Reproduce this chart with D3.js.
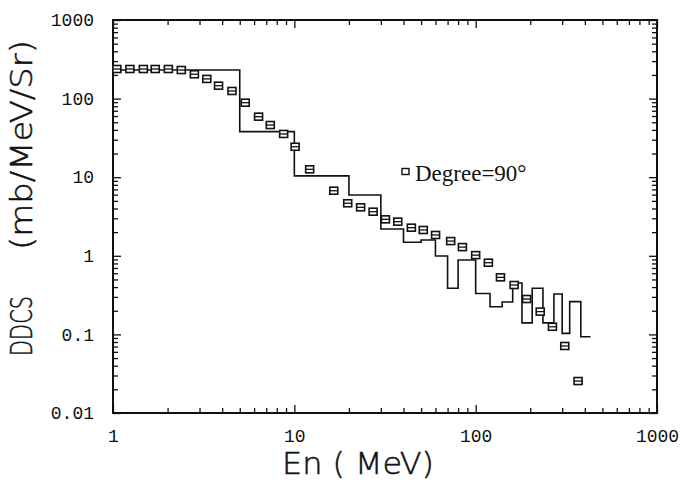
<!DOCTYPE html>
<html>
<head>
<meta charset="utf-8">
<script src="https://cdn.jsdelivr.net/npm/d3@7"></script>
<style>
  html, body { margin: 0; padding: 0; background: #fff; }
  svg { display: block; }
</style>
</head>
<body>
<svg id="chart" width="694" height="486"></svg>
<script>
// Measured double-differential cross section at 90 degrees (points)
const pointEnergy = [1.05, 1.24, 1.47, 1.71, 2.02, 2.38, 2.81, 3.29, 3.82, 4.53,
  5.36, 6.35, 7.37, 8.73, 10.1, 12.15, 16.5, 19.7, 23.2, 27.2,
  31.8, 37.2, 44.2, 51.4, 60.1, 72.8, 84.5, 100, 117.5, 137,
  163, 191, 227, 265, 310, 367];
const pointDDCS = [238, 238, 238, 238, 238, 231, 204, 178, 146, 125,
  88.7, 58.9, 46.1, 35.5, 24.4, 12.6, 6.73, 4.66, 4.14, 3.64,
  2.91, 2.72, 2.28, 2.13, 1.84, 1.54, 1.29, 1.02, 0.817, 0.532,
  0.425, 0.282, 0.195, 0.125, 0.0712, 0.0255];

// Calculated spectrum as a histogram: bin edges (MeV) and bin contents
const binEdges = [1, 5, 10, 20, 30, 40, 50, 60, 70, 80, 100, 120, 140, 160,
  180, 205, 235, 270, 300, 330, 380, 430];
const binDDCS = [231, 38, 10.4, 5.94, 2.19, 1.49, 1.59, 0.994, 0.386, 0.885,
  0.331, 0.225, 0.258, 0.451, 0.140, 0.386, 0.140, 0.327, 0.103, 0.261, 0.0935];

const xTickLabels = ["1", "10", "100", "1000"];
const yTickLabels = ["0.01", "0.1", "1", "10", "100", "1000"];
const legendLabel = "Degree=90°";

const svg = d3.select("#chart");
const L = 113, R = 657, T = 20, B = 413;

const x = d3.scaleLog().domain([1, 1000]).range([L, R]);
const y = d3.scaleLog().domain([0.01, 1000]).range([B, T]);

const majorX = [1, 10, 100, 1000];
const majorY = [0.01, 0.1, 1, 10, 100, 1000];
const minorX = [], minorY = [];
[1, 10, 100].forEach(d => { for (let k = 2; k <= 9; k++) minorX.push(d * k); });
[0.01, 0.1, 1, 10, 100].forEach(d => { for (let k = 2; k <= 9; k++) minorY.push(+(d * k).toPrecision(3)); });

const labelFont = "'Liberation Mono', 'DejaVu Sans Mono', monospace";
const titleFont = "'DejaVu Sans', sans-serif";

function styleAxis(g) {
  g.select(".domain").remove();
  g.selectAll(".tick line").attr("stroke", "#111").attr("stroke-width", 1.3);
}

// Frame
svg.append("rect")
  .attr("x", L).attr("y", T).attr("width", R - L).attr("height", B - T)
  .attr("fill", "none").attr("stroke", "#111").attr("stroke-width", 2);

// Bottom axis with labels, ticks pointing inward
svg.append("g").attr("transform", `translate(0,${B})`)
  .call(d3.axisBottom(x).tickValues(majorX).tickSize(-8).tickPadding(16)
    .tickFormat((d, i) => xTickLabels[i]))
  .call(styleAxis)
  .call(g => g.selectAll("text").attr("font-family", labelFont).attr("font-size", 18).attr("fill", "#111"));
svg.append("g").attr("transform", `translate(0,${B})`)
  .call(d3.axisBottom(x).tickValues(minorX).tickSize(-5).tickFormat(""))
  .call(styleAxis);
// Top axis
svg.append("g").attr("transform", `translate(0,${T})`)
  .call(d3.axisTop(x).tickValues(majorX).tickSize(-8).tickFormat(""))
  .call(styleAxis);
svg.append("g").attr("transform", `translate(0,${T})`)
  .call(d3.axisTop(x).tickValues(minorX).tickSize(-5).tickFormat(""))
  .call(styleAxis);

// Left axis with labels
svg.append("g").attr("transform", `translate(${L},0)`)
  .call(d3.axisLeft(y).tickValues(majorY).tickSize(-8).tickPadding(19)
    .tickFormat((d, i) => yTickLabels[i]))
  .call(styleAxis)
  .call(g => g.selectAll("text").attr("font-family", labelFont).attr("font-size", 18).attr("fill", "#111"));
svg.append("g").attr("transform", `translate(${L},0)`)
  .call(d3.axisLeft(y).tickValues(minorY).tickSize(-5).tickFormat(""))
  .call(styleAxis);
// Right axis
svg.append("g").attr("transform", `translate(${R},0)`)
  .call(d3.axisRight(y).tickValues(majorY).tickSize(-8).tickFormat(""))
  .call(styleAxis);
svg.append("g").attr("transform", `translate(${R},0)`)
  .call(d3.axisRight(y).tickValues(minorY).tickSize(-5).tickFormat(""))
  .call(styleAxis);

// Histogram step line
const steps = [];
binDDCS.forEach((v, i) => {
  steps.push([binEdges[i], v]);
  steps.push([binEdges[i + 1], v]);
});
svg.append("path")
  .datum(steps)
  .attr("fill", "none")
  .attr("stroke", "#111")
  .attr("stroke-width", 1.6)
  .attr("d", d3.line().x(d => x(d[0])).y(d => y(d[1])));

// Data markers: small boxes with a middle bar
const pts = svg.append("g").selectAll("g")
  .data(pointEnergy.map((e, i) => [e, pointDDCS[i]]))
  .join("g")
  .attr("transform", d => `translate(${x(d[0])},${y(d[1])})`);
pts.append("rect")
  .attr("x", -4).attr("y", -3.5).attr("width", 8).attr("height", 7)
  .attr("fill", "#fff").attr("stroke", "#111").attr("stroke-width", 1.6);
pts.append("line")
  .attr("x1", -4).attr("x2", 4).attr("y1", 0).attr("y2", 0)
  .attr("stroke", "#111").attr("stroke-width", 1.3);

// Legend
svg.append("rect")
  .attr("x", 402).attr("y", 168.5).attr("width", 7).attr("height", 6)
  .attr("fill", "none").attr("stroke", "#111").attr("stroke-width", 1.4);
svg.append("text")
  .attr("x", 415).attr("y", 181)
  .attr("font-family", "'Liberation Serif', 'Times New Roman', serif")
  .attr("font-size", 23)
  .attr("fill", "#111")
  .text(legendLabel);

// Axis titles (thin plotter-style lettering)
function titleText(sel) {
  return sel.attr("font-family", titleFont)
    .attr("font-size", 30).attr("font-weight", 300)
    .attr("fill", "#111").attr("stroke", "#111").attr("stroke-width", 0.5);
}

svg.append("text")
  .attr("x", 282).attr("y", 474)
  .call(titleText)
  .attr("textLength", 152).attr("lengthAdjust", "spacingAndGlyphs")
  .text("En ( MeV)");

svg.append("text")
  .attr("transform", "translate(32,356) rotate(-90)")
  .call(titleText)
  .attr("textLength", 60).attr("lengthAdjust", "spacingAndGlyphs")
  .text("DDCS");

svg.append("text")
  .attr("transform", "translate(32,250) rotate(-90)")
  .call(titleText)
  .attr("textLength", 210).attr("lengthAdjust", "spacingAndGlyphs")
  .text("(mb/MeV/Sr)");
</script>
</body>
</html>
